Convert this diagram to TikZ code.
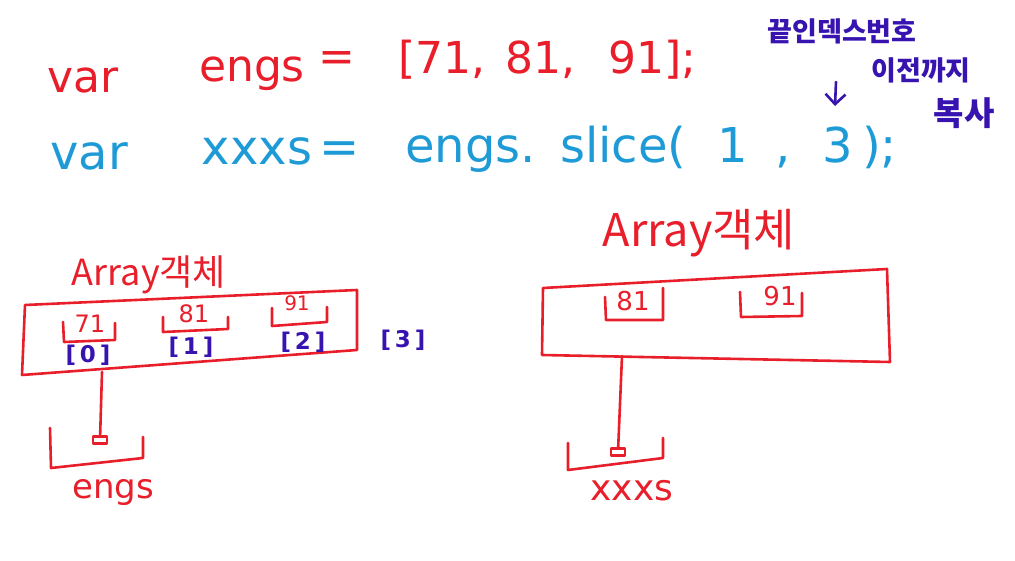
\documentclass[tikz,border=0pt]{standalone}
\usepackage{fontspec}
\setmainfont{DejaVu Sans}
\newfontfamily\krfont{Noto Sans CJK KR}
\usetikzlibrary{arrows.meta}
\definecolor{penred}{RGB}{232,30,42}
\definecolor{penblue}{RGB}{30,155,215}
\definecolor{penpurple}{RGB}{55,20,175}

\begin{document}
\begin{tikzpicture}[x=1pt,y=-1pt,
  pen/.style={line width=2.6pt,line cap=round,line join=round},
  codeA/.style={text=penred,inner sep=0pt,font=\fontsize{44}{44}\selectfont},
  codeB/.style={text=penblue,inner sep=0pt,font=\fontsize{48}{48}\selectfont},
  note/.style={text=penpurple,inner sep=0pt,font=\krfont\bfseries\fontsize{27}{27}\selectfont},
  idx/.style={text=penpurple,inner sep=0pt,font=\bfseries\fontsize{23}{23}\selectfont},
  lab/.style={text=penred,inner sep=0pt},
  tipbox/.style={pen,draw=penred,minimum width=14pt,minimum height=7pt,inner sep=0pt}]
\useasboundingbox (0,0) rectangle (1015,561);

% first line
\node[codeA,anchor=base] (varA) at (83,93) {var};
\node[codeA,anchor=base] (engsA) at (252,82) {engs};
\node[codeA] (eqA) at (337,62) {=};
\node[codeA,anchor=base west] (elemA) at (398,74) {[71,};
\node[codeA,anchor=base west] (elemB) at (505,74) {81,};
\node[codeA,anchor=base west] (elemC) at (608,74) {91];};

% second line
\node[codeB,anchor=base] (varB) at (89,170) {var};
\node[codeB,anchor=base] (xxxsB) at (257,165) {xxxs};
\node[codeB] (eqB) at (340,153) {=};
\node[codeB,anchor=base west] (callA) at (405,163) {engs.};
\node[codeB,anchor=base west] (callB) at (560,163) {slice(};
\node[codeB,anchor=base] (argA) at (733,163) {1};
\node[codeB,anchor=base] (commaB) at (783,163) {,};
\node[codeB,anchor=base] (argB) at (838,163) {3};
\node[codeB,anchor=base west] (callC) at (862,163) {);};

% note on the end index
\node[note] (noteA) at (842,31) {끝인덱스번호};
\node[note] (noteB) at (921,70) {이전까지};
\node[note,font=\krfont\bfseries\fontsize{33}{33}\selectfont] (noteC) at (964,113) {복사};
\coordinate (arrTop) at (836,82);
\coordinate (arrTip) at (835,106);
\draw[pen,penpurple,-{Straight Barb[length=10pt,width=20pt,line width=2.6pt]}] (arrTop) -- (arrTip);

% left: engs and its array
\node[lab,font=\krfont\fontsize{36}{36}\selectfont] (objL) at (149,275) {Array객체};
\draw[pen,penred] (25,305) -- (357,290) -- (357,350) -- (22,375) -- cycle;
\draw[pen,penred] (63,322) -- (64,342) -- (115,340) -- (115,323);
\node[codeA,font=\fontsize{24}{24}\selectfont] (cellA) at (90,324) {71};
\draw[pen,penred] (163,317) -- (163,332) -- (228,329) -- (228,317);
\node[codeA,font=\fontsize{24}{24}\selectfont] (cellB) at (194,314) {81};
\draw[pen,penred] (272,308) -- (272,326) -- (327,322) -- (327,307);
\node[codeA,font=\fontsize{20}{20}\selectfont] (cellC) at (297,303) {91};
\node[idx] (idxA) at (88,355) {[\,0\,]};
\node[idx] (idxB) at (191,347) {[\,1\,]};
\node[idx] (idxC) at (303,342) {[\,2\,]};
\node[idx] (idxD) at (403,340) {[\,3\,]};

\coordinate (ptrL) at (102,372);
\node[tipbox] (tipL) at (100,440) {};
\draw[pen,penred] (ptrL) -- (tipL);
\draw[pen,penred] (50,428) -- (51,468) -- (143,458) -- (143,437);
\node[codeA,anchor=base,font=\fontsize{34}{34}\selectfont] (slotL) at (113,498) {engs};

% right: xxxs and the sliced array
\node[lab,font=\krfont\fontsize{45}{45}\selectfont] (objR) at (699,233) {Array객체};
\draw[pen,penred] (543,288) -- (887,269) -- (890,362) -- (542,355) -- cycle;
\draw[pen,penred] (605,297) -- (606,320) -- (663,320) -- (663,288);
\node[codeA,font=\fontsize{26}{26}\selectfont] (cellD) at (633,301) {81};
\draw[pen,penred] (740,292) -- (741,317) -- (802,316) -- (802,293);
\node[codeA,font=\fontsize{26}{26}\selectfont] (cellE) at (780,296) {91};

\coordinate (ptrR) at (622,356);
\node[tipbox] (tipR) at (618,452) {};
\draw[pen,penred] (ptrR) -- (tipR);
\draw[pen,penred] (568,443) -- (568,470) -- (663,458) -- (663,438);
\node[codeA,anchor=base,font=\fontsize{36}{36}\selectfont] (slotR) at (632,500) {xxxs};
\end{tikzpicture}
\end{document}
